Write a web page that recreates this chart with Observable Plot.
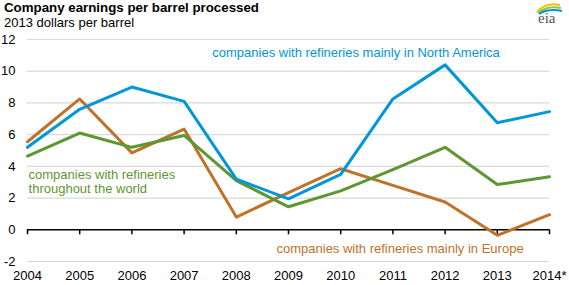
<!DOCTYPE html>
<html>
<head>
<meta charset="utf-8">
<script src="https://cdn.jsdelivr.net/npm/d3@7"></script>
<script src="https://cdn.jsdelivr.net/npm/@observablehq/plot@0.6"></script>
<style>
  body { margin: 0; background: #fff; font-family: "Liberation Sans", Arial, sans-serif; }
  #wrap { position: relative; width: 569px; height: 285px; }
  #title { position: absolute; left: 4px; top: 0px; font-weight: bold; font-size: 13.3px; color: #000; line-height: 15px; }
  #sub { position: absolute; left: 4px; top: 15px; font-size: 13px; color: #000; line-height: 15px; }
  #logo { position: absolute; left: 528px; top: 0px; }
</style>
</head>
<body>
<div id="wrap">
  <div id="chart"></div>
  <div id="title">Company earnings per barrel processed</div>
  <div id="sub">2013 dollars per barrel</div>
  <svg id="logo" width="40" height="26">
    <path d="M9,12 Q18,2 32,5" fill="none" stroke="#f2c300" stroke-width="2"/>
    <path d="M10,13 Q19,5 33,8" fill="none" stroke="#8cc63f" stroke-width="2"/>
    <path d="M11,14 Q20,8 34,11" fill="none" stroke="#0096d7" stroke-width="2"/>
    <text x="10" y="23" font-family="Liberation Serif, serif" font-size="15" fill="#555">eia</text>
  </svg>
</div>
<script>
const years = [2004, 2005, 2006, 2007, 2008, 2009, 2010, 2011, 2012, 2013, 2014];
const northAmerica = [5.2, 7.6, 9.0, 8.1, 3.2, 1.95, 3.5, 8.25, 10.4, 6.75, 7.45];
const world = [4.65, 6.1, 5.2, 5.95, 3.1, 1.45, 2.45, 3.8, 5.2, 2.85, 3.35];
const europe = [5.55, 8.25, 4.85, 6.35, 0.8, 2.35, 3.85, 2.8, 1.75, -0.35, 0.95];
const yTicks = [-2, 0, 2, 4, 6, 8, 10, 12];
const xTickLabels = ["2004", "2005", "2006", "2007", "2008", "2009", "2010", "2011", "2012", "2013", "2014*"];
const seriesNames = ["companies with refineries mainly in North America", "companies with refineries\nthroughout the world", "companies with refineries mainly in Europe"];
const colors = ["#0096d7", "#5d9732", "#bd732a"];

const rows = (vals, s) => years.map((y, i) => ({year: y, value: vals[i], series: s}));
const na = rows(northAmerica, "na"), wo = rows(world, "world"), eu = rows(europe, "europe");

const chart = Plot.plot({
  width: 569,
  height: 285,
  marginLeft: 27,
  marginRight: 20,
  marginTop: 39,
  marginBottom: 24,
  style: {fontFamily: "Liberation Sans, Arial, sans-serif", fontSize: "13px", color: "#000", background: "#fff"},
  x: {domain: [2004, 2014], ticks: years, label: null},
  y: {domain: [-2, 12], ticks: yTicks, label: null},
  marks: [
    Plot.ruleY(yTicks.filter(d => d !== 0), {y: d => d, stroke: "#d9d9d9", strokeWidth: 1.2}),
    Plot.axisY({ticks: yTicks, tickSize: 0, tickPadding: 12, textAnchor: "end", fontSize: 13, label: null,
      tickFormat: d => String(d)}),
    Plot.axisX({ticks: years, tickSize: 0, tickPadding: 9, fontSize: 13, label: null,
      tickFormat: (d) => xTickLabels[years.indexOf(d)]}),
    Plot.ruleY([0], {stroke: "#000", strokeWidth: 1.5}),
    Plot.ruleX(years, {x: d => d, y1: 0, y2: 0, insetBottom: -5, stroke: "#000", strokeWidth: 1.5}),
    Plot.line(eu, {x: "year", y: "value", stroke: colors[2], strokeWidth: 3}),
    Plot.line(wo, {x: "year", y: "value", stroke: colors[1], strokeWidth: 3}),
    Plot.line(na, {x: "year", y: "value", stroke: colors[0], strokeWidth: 3}),
    Plot.text([seriesNames[0]], {x: 2007.54, y: 11.15, text: d => d, fill: colors[0], textAnchor: "start", fontSize: 13, style: "letter-spacing:0.12px"}),
    Plot.text([seriesNames[1]], {x: 2004.02, y: 3.05, text: d => d, fill: colors[1], textAnchor: "start", fontSize: 13, lineHeight: 1.08}),
    Plot.text([seriesNames[2]], {x: 2008.77, y: -1.2, text: d => d, fill: colors[2], textAnchor: "start", fontSize: 13})
  ]
});
document.getElementById("chart").appendChild(chart);
</script>
</body>
</html>
